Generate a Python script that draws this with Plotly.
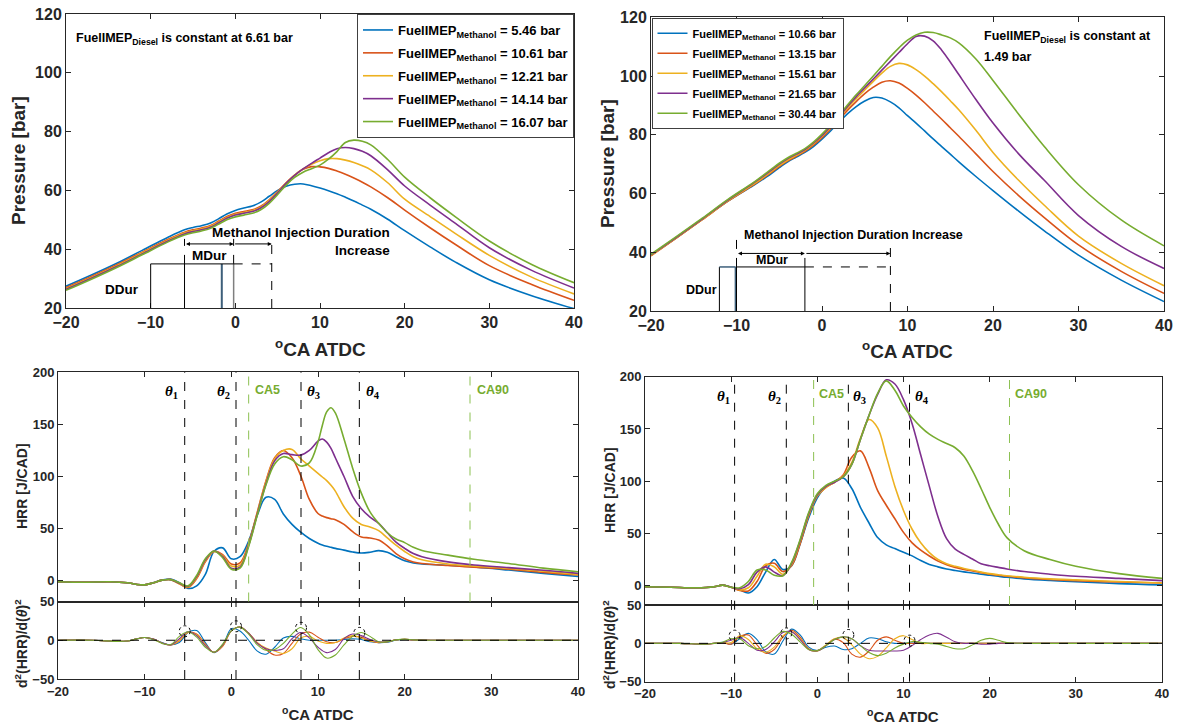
import plotly.graph_objects as go

F = "Liberation Sans"
W, H = 1179, 727
COLORS = ["#0072BD", "#D95319", "#EDB120", "#7E2F8E", "#77AC30"]
AX = "#262626"

# ------------------------------------------------------------------ data
# Top-left pressure (FuelIMEP_Diesel = 6.61 bar)
CA_TL = [-20, -17, -14, -11, -8, -6, -5, -4, -3, -2, -1, 0, 1, 2, 3, 4, 5, 6, 7, 8, 9, 10,
         11, 12, 13, 14, 15, 16, 18, 20, 23, 26, 30, 35, 40]
TL_LABELS = ["5.46", "10.61", "12.21", "14.14", "16.07"]
P_TL_546 = [27.4, 31.2, 35.2, 39.6, 44.0, 46.6, 47.4, 48.0, 48.8, 50.3, 52.0, 53.2, 54.0, 54.7, 56.0,
            58.0, 60.0, 61.4, 62.1, 62.2, 61.6, 60.8, 59.9, 58.9, 57.7, 56.4, 55.0, 53.6, 50.2, 46.3,
            40.8, 35.6, 29.6, 24.2, 19.8]
P_TL_1061 = [26.9, 30.7, 34.7, 39.0, 43.3, 45.8, 46.6, 47.2, 48.0, 49.5, 51.1, 52.2, 52.8, 53.4, 54.6,
             56.8, 59.6, 62.6, 65.2, 67.2, 68.1, 68.0, 67.5, 66.6, 65.5, 64.2, 62.8, 61.2, 57.5, 53.3,
             47.3, 41.6, 34.4, 28.0, 22.6]
P_TL_1221 = [26.6, 30.4, 34.4, 38.7, 43.0, 45.5, 46.3, 46.9, 47.7, 49.2, 50.8, 51.9, 52.5, 53.1, 54.3,
             56.5, 59.4, 62.5, 65.2, 67.3, 68.9, 70.1, 70.8, 70.8, 70.3, 69.5, 68.4, 67.0, 62.6, 57.0,
             51.1, 45.3, 37.9, 30.5, 24.8]
P_TL_1414 = [26.3, 30.1, 34.1, 38.4, 42.7, 45.2, 46.0, 46.6, 47.4, 48.9, 50.5, 51.6, 52.2, 52.8, 54.0,
             56.2, 59.2, 62.4, 65.1, 67.3, 69.2, 71.0, 72.8, 74.2, 74.6, 74.2, 73.3, 71.8, 67.0, 61.5,
             55.0, 48.8, 40.5, 32.8, 26.8]
P_TL_1607 = [26.0, 29.8, 33.8, 38.1, 42.4, 44.8, 45.6, 46.2, 47.0, 48.5, 50.0, 51.0, 51.6, 52.2, 53.4,
             55.6, 58.6, 61.8, 64.4, 66.2, 67.4, 68.6, 70.6, 73.2, 76.3, 77.1, 76.7, 75.5, 70.5, 64.5,
             57.5, 51.0, 42.8, 34.8, 28.6]

# Top-right pressure (FuelIMEP_Diesel = 1.49 bar)
CA_TR = CA_TL
TR_LABELS = ["10.66", "13.15", "15.61", "21.65", "30.44"]
P_TR_1066 = [39.0, 45.0, 51.2, 57.4, 62.8, 66.6, 68.8, 70.8, 72.4, 74.0, 76.0, 78.5, 81.3, 84.3, 87.2,
             89.6, 91.5, 92.7, 92.5, 91.2, 89.2, 86.5, 84.0, 81.3, 78.6, 76.0, 73.4, 70.8, 65.8, 61.0,
             54.0, 47.3, 39.0, 30.5, 23.2]
P_TR_1315 = [38.8, 44.9, 51.1, 57.4, 63.0, 67.0, 69.2, 71.1, 72.7, 74.4, 76.5, 79.0, 82.0, 85.2, 88.4,
             91.3, 94.0, 96.2, 97.9, 98.4, 97.6, 95.8, 93.5, 90.9, 88.1, 85.3, 82.4, 79.5, 73.5, 67.5,
             59.3, 51.8, 42.5, 33.5, 26.0]
P_TR_1561 = [38.9, 45.0, 51.2, 57.5, 63.2, 67.3, 69.5, 71.4, 73.0, 74.7, 76.9, 79.5, 82.5, 85.8, 89.2,
             92.3, 95.3, 98.2, 101.0, 103.3, 104.3, 103.8, 102.2, 100.0, 97.4, 94.6, 91.6, 88.5, 81.5,
             74.0, 64.5, 56.0, 45.5, 36.2, 28.6]
P_TR_2165 = [39.1, 45.2, 51.4, 57.8, 63.6, 67.8, 70.0, 71.9, 73.4, 75.0, 77.2, 79.8, 82.9, 86.2, 89.7,
             93.0, 96.0, 99.0, 102.0, 105.0, 108.0, 111.0, 113.5, 113.6, 112.0, 108.8, 104.8, 100.5,
             92.0, 84.0, 73.5, 64.5, 52.5, 42.0, 34.5]
P_TR_3044 = [39.3, 45.4, 51.6, 58.0, 63.8, 68.1, 70.3, 72.2, 73.7, 75.3, 77.5, 80.2, 83.3, 86.7, 90.2,
             93.6, 96.8, 100.0, 103.3, 106.6, 109.6, 112.2, 114.0, 114.9, 114.8, 114.0, 113.0, 111.3,
             105.8, 98.5, 87.0, 76.0, 63.0, 51.0, 42.2]

# Bottom-left heat release rate
CA_BL = [-20, -17, -14, -12, -11, -10, -9, -8, -7, -6, -5, -4, -3, -2, -1, 0, 1, 2, 3, 4, 5, 6, 7, 8, 9,
         10, 10.5, 11, 11.5, 12, 13, 14, 15, 16, 17, 18, 19, 20, 21, 22, 25, 28, 32, 36, 40]
HRR_BL_1 = [-1, -1.5, -1, -2, -3.5, -4, -2, 0.5, 1.5, -2, -7.5, -5, 6, 28, 31.5, 21, 23, 38, 63, 80,
            78, 64, 54, 46.5, 40.5, 36, 34.3, 33, 32, 31, 29.3, 27.5, 26.5, 27.3, 28.8, 27.2, 23, 19,
            17, 16, 14.8, 13.2, 10.2, 7, 4]
HRR_BL_2 = [-1, -1.5, -1, -2, -3.5, -4, -2, 0.5, 1, -3, -6.5, 2, 18, 28, 25, 16, 17, 36, 66, 96, 118,
            125, 118, 101, 78, 64.5, 62, 60.5, 59.5, 58.5, 54, 47, 42, 41, 39, 33.5, 26, 21, 18, 16.5,
            14.5, 13, 11, 8, 5.5]
HRR_BL_3 = [-1, -1.5, -1, -2, -3.5, -4, -2, 0.5, 1, -3, -6, 3, 19, 28, 24, 14, 15, 35, 65, 95, 117,
            125, 126, 117, 110, 103, 99.5, 96, 91.5, 86, 71, 60, 54, 51.5, 48, 41, 34, 28, 23, 20, 16,
            14, 11.8, 9, 6]
HRR_BL_4 = [-1, -1.5, -1, -2, -3.5, -4, -2, 0.5, 1, -2.5, -5.5, 4, 20, 28.5, 23, 12, 13, 34, 64, 93,
            115, 122, 121, 120.5, 125, 134, 136, 133, 127, 118, 100, 81, 69, 61, 55, 46, 37, 31, 26,
            23, 18, 15, 12.5, 10, 7]
HRR_BL_5 = [-1, -1.5, -1, -2, -3.5, -4, -2, 0.5, 1, -2, -5, 5, 21, 28.5, 22, 11, 12, 33, 63, 92, 112,
            119, 116, 110, 113, 133, 149, 162, 166, 161, 136, 108, 84, 66, 55, 46, 40, 36.5, 32, 29,
            24.5, 20.5, 16.5, 12, 8.5]

# Bottom-left second derivative of HRR
CA_BLD = [-20, -16, -13, -12, -11, -10, -9, -8, -7, -6, -5, -4, -3, -2, -1, 0, 1, 2, 3, 4, 5, 6, 7, 8,
          9, 10, 11, 12, 13, 14, 15, 16, 17, 18, 19, 20, 21, 23, 27, 32, 40]
D2_BL_1 = [0, 0, -1.5, -1, 1.5, 3.5, 1.5, -3, -6, -3, 10, 12.5, -3, -16, -7, 15, 12, 0, -14, -18, -9,
           3, 5, 2, 0, 0, 0, 0, 1, 2, 1, -2, -3, -2.5, 0, 1, 0.5, 0, 0, 0, 0]
D2_BL_2 = [0, 0, -1.5, -1, 1.5, 3.5, 1.5, -3.5, -6, -1, 10, 8, -5, -15.5, -8, 12, 17, 9, -3, -12, -19,
           -17, -4, 8, 10.5, 4, -2, -3, 2, 5, 4, -1, -3, -2, 0.5, 1.2, 0.5, 0, 0, 0, 0]
D2_BL_3 = [0, 0, -1.5, -1, 1.5, 3.5, 1.5, -3.5, -6, 0, 10, 7, -6, -15.5, -7, 12, 17, 9, -3, -10, -14,
           -17, -11, 3, 5, -1, -4, -3, 3, 6, 3, -1, -2.5, -2, 0.5, 1.2, 0.5, 0, 0, 0, 0]
D2_BL_4 = [0, 0, -1.5, -1, 1.5, 3.5, 1.5, -3.5, -6, 2, 11, 6, -7, -15.5, -6, 12, 17, 9, -4, -11, -13,
           -11, 2, 10, 3, -9, -16, -12, 2, 8, 6, 1, -2, -2, 0.5, 1.2, 0.5, 0, 0, 0, 0]
D2_BL_5 = [0, 0, -1.5, -1, 1.5, 3.5, 1, -4, -5.5, 5, 11, 4, -9, -15.5, -5, 12, 17, 8, -6, -13, -12,
           -4, 8, 16.5, 7, -12, -23, -19, -6, 5, 10, 5, -2, -2, 0.5, 1.5, 0.5, 0, 0, 0, 0]

# Bottom-right heat release rate
CA_BR = [-20, -17, -14, -12, -11, -10, -9, -8, -7, -6, -5, -4, -3, -2, -1, 0, 1, 2, 3, 4, 5, 6, 7, 8,
         9, 10, 11, 12, 13, 14, 15, 16, 17, 18, 19, 20, 21, 22, 24, 27, 30, 35, 40]
HRR_BR_1 = [-1, -1.5, -2, -1, 0.5, -1.5, -4, -7, -1, 13, 25, 15.5, 19, 40, 65, 84, 95, 100, 103, 93,
            75, 60, 46, 39, 35.5, 32, 28.5, 24, 20.3, 18, 16, 14.5, 13.2, 12.2, 11, 10, 9, 8, 6.5, 5,
            3.8, 2, 0.8]
HRR_BR_2 = [-1, -1.5, -2, -1, 0.5, -1.5, -4.5, -5, 4, 19, 21.5, 13.5, 19, 40, 67, 86, 94, 99, 106, 123,
            129, 113, 91, 77, 64, 51, 41, 34, 28.4, 23.5, 20, 17.5, 15.5, 14, 12.5, 11, 10, 9, 7.5, 6,
            4.8, 3.5, 2.5]
HRR_BR_3 = [-1, -1.5, -2, -1, 0.5, -1.5, -4, -2, 9, 20.5, 18, 11, 20, 42, 68, 86, 94, 99, 105, 118,
            141, 159, 151, 124, 95, 72, 54, 41, 31.6, 25, 21, 18.5, 16.5, 14.7, 13, 11.5, 10.5, 9.5, 8,
            6.5, 5.5, 4, 2.5]
HRR_BR_4 = [-1, -1.5, -2, -1, 0.5, -1.5, -3, 1, 13, 18, 13, 9.5, 21, 43, 69, 87, 95, 99, 104, 116,
            140, 163, 183, 197, 193, 178, 155, 125, 95, 66, 45, 35, 30, 25.5, 21, 19, 17.5, 16, 13.5,
            11, 9, 7, 4.8]
HRR_BR_5 = [-1, -1.5, -2, -1, 0.5, -1.5, -2, 4, 15, 15, 10, 9.5, 22, 44, 70, 88, 96, 100, 104, 116,
            140, 163, 184, 196, 187, 172, 161, 152, 145, 140, 136, 132, 124, 110, 93, 75, 59, 46,
            33.5, 25, 18.5, 11.5, 7]

# Bottom-right second derivative of HRR
CA_BRD = [-20, -16, -13, -12, -11, -10, -9, -8, -7, -6, -5, -4, -3, -2, -1, 0, 1, 2, 3, 4, 5, 6, 7, 8,
          9, 10, 11, 12, 13, 14, 15, 16, 17, 18, 19, 20, 21, 22, 24, 27, 32, 40]
D2_BR_1 = [0, 0, -1, 0, 1.5, -1, 6, 13, 5, -11, -14, 3, 18.5, 11, -5, -9.5, -5, -3.5, -8, -7, 0, 7, 6,
           2, 0, 0, 0.5, 0.5, 0, 0, 0, 0, 0, 0, 0, 0, 0, 0, 0, 0, 0, 0]
D2_BR_2 = [0, 0, -1, 0, 1, -1, 9, 11, -2, -13, -8, 8, 17, 8, -7, -10, -3, 5.5, 1, -14, -18, -10, 4,
           8.5, 4, 0, 0, 0, 0, 0, 0, 0, 0, 0, 0, 0, 0, 0, 0, 0, 0, 0]
D2_BR_3 = [0, 0, -1, 0, 1, 1, 10, 5, -7, -11.5, -5, 10, 15.5, 6, -8, -9.5, -2, 6, 7.5, -2, -14, -20,
           -17, -6, 6, 10, 5, 0, 0, 0, 0, 0, 0, 0, 0, 0, 0, 0, 0, 0, 0, 0]
D2_BR_4 = [0, 0, -1, 0, 1, 4, 7.5, 0, -9, -8, 2, 14, 15, 5, -8, -9.5, -3, 5, 8.5, 6, -3, -9, -10, -10,
           -10, -9, -3, 5, 11, 13, 8, 2, 0, 0, -1, -1, 0, 0, 0, 0, 0, 0]
D2_BR_5 = [0, 0, -1, 0, 1.5, 6, 6, -3, -7, -4, 7, 15.5, 12, 2, -8, -9.5, -3, 5, 8.5, 6, -3, -12, -16,
           -13, -6, -1, 2.5, 1.5, 0, -1, -4, -7, -7, -2, 4, 6.5, 4, 1, 0, 0, 0, 0]

# Event markers (deg ATDC) and circle heights on the 2nd derivative
BL_THETA = [-5.38, 0.54, 8.04, 14.77]
BL_THETA_D2 = [11.6, 18, 16, 9.5]
BL_CA5, BL_CA90 = 2.0, 27.54
BR_THETA = [-9.6, -3.6, 3.6, 10.7]
BR_THETA_D2 = [10, 13, 10.9, 3.5]
BR_CA5, BR_CA90 = -0.43, 22.3

# Injection schematic (deg ATDC / bar)
INJ_TOP = 35
TL_DDUR = [-10, -1.6]
TL_MDUR = [-6, -0.2]
TL_MDUR_MAX = 4.3
TR_DDUR = [-12, -10.1]
TR_MDUR = [-10, -2]
TR_MDUR_MAX = 8

# ------------------------------------------------------------------ layout helpers
def px(x):
    return x / W


def py(y):
    return 1 - y / H


DOM = {
    "TL": ([px(66), px(574)], [py(308), py(14)]),
    "TR": ([px(651), px(1164)], [py(311), py(17.3)]),
    "BLH": ([px(58), px(578)], [py(601.5), py(372.3)]),
    "BLD": ([px(58), px(578)], [py(679), py(601.5)]),
    "BRH": ([px(645), px(1162)], [py(605), py(376.7)]),
    "BRD": ([px(645), px(1162)], [py(681.7), py(605)]),
}


def axis(domain, anchor, rng, tickvals, size, labels=True):
    return dict(domain=domain, anchor=anchor, range=rng, tickvals=tickvals, automargin=False,
                showticklabels=labels, showline=True, mirror="ticks", linecolor=AX,
                linewidth=1, ticks="inside", ticklen=5, tickcolor=AX, showgrid=False,
                zeroline=False, tickfont=dict(family=F, size=size, color=AX, weight="bold"))


XT = [-20, -10, 0, 10, 20, 30, 40]
fig = go.Figure()

# pressure traces
for i, (ys, lab, c) in enumerate(zip([P_TL_546, P_TL_1061, P_TL_1221, P_TL_1414, P_TL_1607],
                                     TL_LABELS, COLORS)):
    fig.add_trace(go.Scatter(x=CA_TL, y=ys, mode="lines", xaxis="x", yaxis="y", legend="legend",
                             legendgroup="tl%d" % i,
                             name="FuelIMEP<sub>Methanol</sub> = %s bar" % lab,
                             line=dict(color=c, width=1.6, shape="spline")))
for i, (ys, lab, c) in enumerate(zip([P_TR_1066, P_TR_1315, P_TR_1561, P_TR_2165, P_TR_3044],
                                     TR_LABELS, COLORS)):
    fig.add_trace(go.Scatter(x=CA_TR, y=ys, mode="lines", xaxis="x2", yaxis="y2", legend="legend2",
                             legendgroup="tr%d" % i,
                             name="FuelIMEP<sub>Methanol</sub> = %s bar" % lab,
                             line=dict(color=c, width=1.6, shape="spline")))
# HRR traces
for ys, lab, c in zip([HRR_BL_1, HRR_BL_2, HRR_BL_3, HRR_BL_4, HRR_BL_5], TL_LABELS, COLORS):
    fig.add_trace(go.Scatter(x=CA_BL, y=ys, mode="lines", xaxis="x3", yaxis="y3", showlegend=False,
                             name=lab, line=dict(color=c, width=1.6, shape="spline")))
for ys, lab, c in zip([D2_BL_1, D2_BL_2, D2_BL_3, D2_BL_4, D2_BL_5], TL_LABELS, COLORS):
    fig.add_trace(go.Scatter(x=CA_BLD, y=ys, mode="lines", xaxis="x4", yaxis="y4", showlegend=False,
                             name=lab, line=dict(color=c, width=1.1, shape="spline")))
for ys, lab, c in zip([HRR_BR_1, HRR_BR_2, HRR_BR_3, HRR_BR_4, HRR_BR_5], TR_LABELS, COLORS):
    fig.add_trace(go.Scatter(x=CA_BR, y=ys, mode="lines", xaxis="x5", yaxis="y5", showlegend=False,
                             name=lab, line=dict(color=c, width=1.6, shape="spline")))
for ys, lab, c in zip([D2_BR_1, D2_BR_2, D2_BR_3, D2_BR_4, D2_BR_5], TR_LABELS, COLORS):
    fig.add_trace(go.Scatter(x=CA_BRD, y=ys, mode="lines", xaxis="x6", yaxis="y6", showlegend=False,
                             name=lab, line=dict(color=c, width=1.1, shape="spline")))

shapes = []
ann = []


def seg(xr, yr, x0, y0, x1, y1, color="black", width=1, dash="solid"):
    shapes.append(dict(type="line", xref=xr, yref=yr, x0=x0, y0=y0, x1=x1, y1=y1,
                       line=dict(color=color, width=width, dash=dash), layer="above"))


def text(xr, yr, x, y, t, size, xa="center", ya="middle", color="black", angle=0, fam=F):
    ann.append(dict(xref=xr, yref=yr, x=x, y=y, text=t, showarrow=False, xanchor=xa, yanchor=ya,
                    textangle=angle, font=dict(family=fam, size=size, color=color, weight="bold")))


def arrow(xr, yr, x0, x1, y, both=True):
    ann.append(dict(xref=xr, yref=yr, axref=xr, ayref=yr, x=x1, y=y, ax=x0, ay=y, text="",
                    showarrow=True, arrowhead=2, arrowsize=0.8, arrowwidth=1, arrowcolor="black",
                    arrowside="end+start" if both else "end", standoff=0, startstandoff=0))


SLATE = "#3d5f7a"
# ---- top-left injection schematic
seg("x", "y", TL_DDUR[0], 20, TL_DDUR[0], INJ_TOP)
seg("x", "y", TL_MDUR[0], 20, TL_MDUR[0], INJ_TOP)
seg("x", "y", TL_DDUR[1], 20, TL_DDUR[1], INJ_TOP, SLATE, 2)
seg("x", "y", TL_MDUR[1], 20, TL_MDUR[1], INJ_TOP, "#7f7f7f", 1.5)
seg("x", "y", TL_DDUR[0], INJ_TOP, TL_MDUR[1], INJ_TOP)
seg("x", "y", TL_MDUR[1], INJ_TOP, TL_MDUR_MAX, INJ_TOP, dash="dash")
seg("x", "y", TL_MDUR_MAX, 20, TL_MDUR_MAX, 43.5, dash="dash")
seg("x", "y", TL_MDUR[0], INJ_TOP, TL_MDUR[0], 43.5, dash="dash")
seg("x", "y", TL_MDUR[1], INJ_TOP, TL_MDUR[1], 43.5, dash="dash")
arrow("x", "y", TL_MDUR[0], TL_MDUR[1], 41.8)
arrow("x", "y", TL_MDUR[1], TL_MDUR_MAX, 41.8, both=False)
text("x", "y", -13.4, 26.2, "DDur", 13.5)
text("x", "y", -3.1, 38.0, "MDur", 13.5)
text("x", "y", 18.5, 45.6, "Methanol Injection Duration", 13.5, xa="right")
text("x", "y", 18.5, 39.7, "Increase", 13.5, xa="right")
text("x", "y", -19.0, 111.5, "FuelIMEP<sub>Diesel</sub> is constant at 6.61 bar", 12.5, xa="left")

# ---- top-right injection schematic
seg("x2", "y2", TR_DDUR[0], 20, TR_DDUR[0], INJ_TOP)
seg("x2", "y2", TR_DDUR[0], INJ_TOP, TR_DDUR[1], INJ_TOP, SLATE, 1.5)
seg("x2", "y2", TR_DDUR[1], 20, TR_DDUR[1], INJ_TOP, SLATE, 2)
seg("x2", "y2", TR_MDUR[0], 20, TR_MDUR[0], INJ_TOP)
seg("x2", "y2", TR_MDUR[0], INJ_TOP, TR_MDUR[1], INJ_TOP)
seg("x2", "y2", TR_MDUR[1], 20, TR_MDUR[1], INJ_TOP)
seg("x2", "y2", TR_MDUR[1], INJ_TOP, TR_MDUR_MAX, INJ_TOP, dash="dash")
seg("x2", "y2", TR_MDUR_MAX, 20, TR_MDUR_MAX, 41.5, dash="dash")
seg("x2", "y2", TR_MDUR[0], INJ_TOP, TR_MDUR[0], 47, dash="dash")
seg("x2", "y2", TR_MDUR[1], INJ_TOP, TR_MDUR[1], 41, dash="dash")
arrow("x2", "y2", TR_MDUR[0], TR_MDUR[1], 39.6)
arrow("x2", "y2", TR_MDUR[1], TR_MDUR_MAX, 39.6, both=False)
text("x2", "y2", -14.1, 27.2, "DDur", 12.5)
text("x2", "y2", -5.9, 37.4, "MDur", 12.5)
text("x2", "y2", -9.3, 45.9, "Methanol Injection Duration Increase", 12.5, xa="left")
text("x2", "y2", 18.75, 113.3, "FuelIMEP<sub>Diesel</sub> is constant at", 12.5, xa="left")
text("x2", "y2", 18.75, 106.6, "1.49 bar", 12.5, xa="left")

# ---- HRR event lines and labels
GREEN_DASH = "#8cc152"


def events(xh, yh, xd, yd, hdom, ddom, thetas, circ_y, ca5, ca90, lab_dx, lab_side, ca_dx):
    for i, (t, cy) in enumerate(zip(thetas, circ_y)):
        shapes.append(dict(type="line", xref=xd, yref="paper", x0=t, x1=t, y0=ddom[0], y1=hdom[1],
                           line=dict(color="black", width=1, dash="dash"), layer="above"))
        shapes.append(dict(type="circle", xref=xd, yref=yd, xsizemode="pixel", ysizemode="pixel",
                           xanchor=t, yanchor=cy, x0=-5.5, x1=5.5, y0=-5.5, y1=5.5,
                           line=dict(color="black", width=1, dash="dot"), layer="above"))
        side = lab_side[i]
        text(xh, yh, t + (lab_dx if side == "left" else -lab_dx), 181,
             "<i>θ</i><sub>%d</sub>" % (i + 1), 15, xa=side, fam="Liberation Serif")
    for c, lab in [(ca5, "CA5"), (ca90, "CA90")]:
        shapes.append(dict(type="line", xref=xh, yref=yh + " domain", x0=c, x1=c, y0=0, y1=1,
                           line=dict(color=GREEN_DASH, width=1, dash="dash"), layer="above"))
        text(xh, yh, c + ca_dx, 183, lab, 12.5, xa="left", color="#77AC30")
    shapes.append(dict(type="line", xref=xd + " domain", yref=yd, x0=0, x1=1, y0=0, y1=0,
                       line=dict(color="black", width=1, dash="dash"), layer="above"))


events("x3", "y3", "x4", "y4", DOM["BLH"][1], DOM["BLD"][1], BL_THETA, BL_THETA_D2, BL_CA5, BL_CA90,
       0.5, ["right", "right", "left", "left"], 0.55)
events("x5", "y5", "x6", "y6", DOM["BRH"][1], DOM["BRD"][1], BR_THETA, BR_THETA_D2, BR_CA5, BR_CA90,
       0.35, ["right", "right", "left", "left"], 0.35)

# ---- axis titles
text("paper", "paper", px(19), py(161), "Pressure [bar]", 19, angle=-90, color=AX)
text("paper", "paper", px(607), py(164), "Pressure [bar]", 19, angle=-90, color=AX)
text("paper", "paper", px(320), py(348), "<sup>o</sup>CA ATDC", 19, color=AX)
text("paper", "paper", px(907), py(350), "<sup>o</sup>CA ATDC", 19, color=AX)
text("paper", "paper", px(22), py(486), "HRR [J/CAD]", 14, angle=-90, color=AX)
text("paper", "paper", px(610), py(490), "HRR [J/CAD]", 14, angle=-90, color=AX)
text("paper", "paper", px(21), py(644), "d<sup>2</sup>(HRR)/d(<i>θ</i>)<sup>2</sup>", 14, angle=-90,
     color=AX)
text("paper", "paper", px(609), py(645), "d<sup>2</sup>(HRR)/d(<i>θ</i>)<sup>2</sup>", 14, angle=-90,
     color=AX)
text("paper", "paper", px(318), py(713), "<sup>o</sup>CA ATDC", 15, color=AX)
text("paper", "paper", px(903), py(715), "<sup>o</sup>CA ATDC", 15, color=AX)

fig.update_layout(
    width=W, height=H, margin=dict(l=0, r=0, t=0, b=0, autoexpand=False), autosize=False,
    paper_bgcolor="white", plot_bgcolor="white",
    xaxis=axis(DOM["TL"][0], "y", [-20, 40], XT, 16),
    yaxis=axis(DOM["TL"][1], "x", [20, 120], [20, 40, 60, 80, 100, 120], 16),
    xaxis2=axis(DOM["TR"][0], "y2", [-20, 40], XT, 16),
    yaxis2=axis(DOM["TR"][1], "x2", [20, 120], [20, 40, 60, 80, 100, 120], 16),
    xaxis3=axis(DOM["BLH"][0], "y3", [-20, 40], XT, 13, labels=False),
    yaxis3=axis(DOM["BLH"][1], "x3", [-20, 200], [0, 50, 100, 150, 200], 13),
    xaxis4=axis(DOM["BLD"][0], "y4", [-20, 40], XT, 13),
    yaxis4=axis(DOM["BLD"][1], "x4", [-50, 50], [-50, 0, 50], 13),
    xaxis5=axis(DOM["BRH"][0], "y5", [-20, 40], XT, 13, labels=False),
    yaxis5=axis(DOM["BRH"][1], "x5", [-18.5, 200], [0, 50, 100, 150, 200], 13),
    xaxis6=axis(DOM["BRD"][0], "y6", [-20, 40], XT, 13),
    yaxis6=axis(DOM["BRD"][1], "x6", [-50, 50], [-50, 0, 50], 13),
    legend=dict(x=px(574), xanchor="right", y=py(14), yanchor="top", bgcolor="white",
                bordercolor="#404040", borderwidth=1, tracegroupgap=3,
                font=dict(family=F, size=13, color="black", weight="bold")),
    legend2=dict(x=px(651.5), xanchor="left", y=py(17.8), yanchor="top", bgcolor="white",
                 bordercolor="#404040", borderwidth=1, tracegroupgap=1,
                 font=dict(family=F, size=11, color="black", weight="bold")),
    shapes=shapes, annotations=ann,
)

fig.write_html("out.html", config={"displayModeBar": False},
               post_script="document.body.style.margin='0';document.body.style.overflow='hidden';")
